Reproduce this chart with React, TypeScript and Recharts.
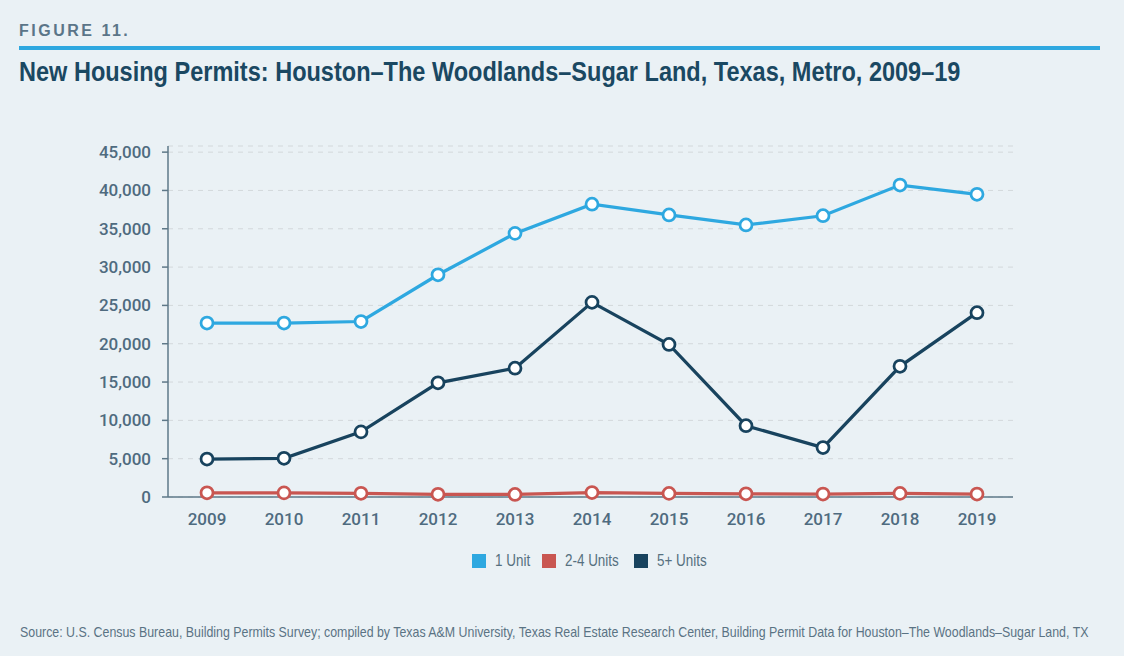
import React from "react";
import {
  LineChart,
  Line,
  XAxis,
  YAxis,
  CartesianGrid,
  Legend,
} from "recharts";

const years = ["2009", "2010", "2011", "2012", "2013", "2014", "2015", "2016", "2017", "2018", "2019"];
const oneUnit = [22700, 22700, 22900, 29000, 34400, 38200, 36800, 35500, 36700, 40700, 39500];
const twoToFourUnits = [550, 540, 480, 350, 330, 580, 470, 420, 380, 470, 380];
const fivePlusUnits = [4950, 5050, 8500, 14900, 16800, 25400, 19900, 9300, 6450, 17050, 24050];
const yTicks = [0, 5000, 10000, 15000, 20000, 25000, 30000, 35000, 40000, 45000];

const seriesNames = ["1 Unit", "2-4 Units", "5+ Units"];
const colors = ["#2ea8e0", "#c95651", "#18435e"];

const data = years.map((year, i) => ({
  year,
  one: oneUnit[i],
  two: twoToFourUnits[i],
  five: fivePlusUnits[i],
}));

const axisColor = "#5e7888";
const textColor = "#4f6b7f";
const sans = "'Liberation Sans', Arial, sans-serif";

// the reference uses a condensed face; squeeze Arial to match
const legendTextWidths = [35, 57, 52];

function LegendBox() {
  return (
    <div
      style={{
        height: 24,
        display: "flex",
        justifyContent: "center",
        alignItems: "center",
        gap: 12,
        fontFamily: sans,
        fontSize: 16,
        color: "#56707f",
      }}
    >
      {seriesNames.map((name, i) => (
        <div key={name} style={{ display: "flex", alignItems: "center" }}>
          <span
            style={{ width: 14, height: 14, background: colors[i], marginRight: 9, display: "inline-block" }}
          />
          <span
            style={{
              display: "inline-block",
              width: legendTextWidths[i],
              whiteSpace: "nowrap",
              transform: "scaleX(0.84)",
              transformOrigin: "left center",
            }}
          >
            {name}
          </span>
        </div>
      ))}
    </div>
  );
}

export default function App() {
  const tickStyle = { fill: textColor, fontSize: 17, fontWeight: 500, fontFamily: "Roboto, sans-serif" };
  const dot = (c: string) => ({ r: 6, fill: "#ffffff", stroke: c, strokeWidth: 2.75 });

  return (
    <div
      style={{
        position: "fixed",
        left: 0,
        top: 0,
        width: 1124,
        height: 656,
        background: "#eaf1f5",
        overflow: "hidden",
      }}
    >
      <div
        style={{
          position: "absolute",
          left: 19,
          top: 23,
          fontFamily: sans,
          fontWeight: 700,
          fontSize: 16,
          lineHeight: "16px",
          letterSpacing: 2.5,
          color: "#5b7588",
        }}
      >
        FIGURE 11.
      </div>
      <div style={{ position: "absolute", left: 19, top: 46, width: 1081, height: 4, background: "#2ea8e0" }} />
      <div
        style={{
          position: "absolute",
          left: 19,
          top: 58,
          fontFamily: sans,
          fontWeight: 700,
          fontSize: 28,
          lineHeight: "28px",
          color: "#1a4862",
          whiteSpace: "nowrap",
          transform: "scaleX(0.84)",
          transformOrigin: "left top",
        }}
      >
        New Housing Permits: Houston–The Woodlands–Sugar Land, Texas, Metro, 2009–19
      </div>

      <div style={{ position: "absolute", left: 0, top: 0 }}>
        <LineChart width={1124} height={600} data={data} margin={{ top: 146, right: 111, bottom: 27, left: 0 }}>
          <CartesianGrid vertical={false} stroke="#d3d8db" strokeDasharray="5 5" />
          <XAxis
            dataKey="year"
            height={52}
            padding={{ left: 39, right: 36 }}
            tickLine={false}
            tick={tickStyle}
            tickMargin={10}
            axisLine={{ stroke: axisColor, strokeWidth: 1.5 }}
          />
          <YAxis
            width={168}
            domain={[0, 45800]}
            ticks={yTicks}
            interval={0}
            tick={tickStyle}
            tickFormatter={(v) => v.toLocaleString("en-US")}
            tickMargin={11}
            tickSize={6}
            tickLine={{ stroke: axisColor, strokeWidth: 1.5 }}
            axisLine={{ stroke: axisColor, strokeWidth: 1.5 }}
          />
          <Legend
            verticalAlign="bottom"
            content={() => <LegendBox />}
            wrapperStyle={{ left: 168, width: 845 }}
          />
          <Line
            dataKey="one"
            name={seriesNames[0]}
            stroke={colors[0]}
            strokeWidth={3.25}
            dot={dot(colors[0])}
            isAnimationActive={false}
          />
          <Line
            dataKey="two"
            name={seriesNames[1]}
            stroke={colors[1]}
            strokeWidth={3.25}
            dot={dot(colors[1])}
            isAnimationActive={false}
          />
          <Line
            dataKey="five"
            name={seriesNames[2]}
            stroke={colors[2]}
            strokeWidth={3.25}
            dot={dot(colors[2])}
            isAnimationActive={false}
          />
        </LineChart>
      </div>

      <div
        style={{
          position: "absolute",
          left: 20,
          top: 624,
          fontFamily: sans,
          fontSize: 15,
          lineHeight: "15px",
          color: "#5a7384",
          whiteSpace: "nowrap",
          transform: "scaleX(0.825)",
          transformOrigin: "left top",
        }}
      >
        Source: U.S. Census Bureau, Building Permits Survey; compiled by Texas A&amp;M University, Texas Real Estate
        Research Center, Building Permit Data for Houston–The Woodlands–Sugar Land, TX
      </div>
    </div>
  );
}
